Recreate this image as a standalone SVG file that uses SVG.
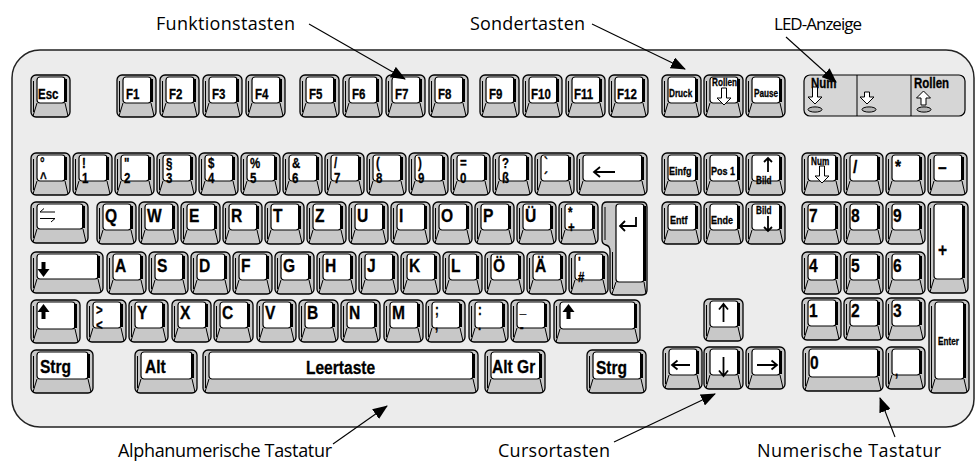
<svg xmlns="http://www.w3.org/2000/svg" xmlns:xlink="http://www.w3.org/1999/xlink" width="977" height="461" viewBox="0 0 977 461">
<style>
.ko{fill:#c8c8c8;stroke:#000;stroke-width:1.3}
.kf{fill:#fff;stroke:#000;stroke-width:1.2}
.ks{fill:none;stroke:#000;stroke-width:3}
.kl{fill:none;stroke:#000;stroke-width:1}
.l,.lc{font-family:"Liberation Sans Narrow","Liberation Sans",Arial,sans-serif;font-weight:bold;fill:#000;stroke:#000;stroke-width:0.3;transform-box:fill-box;transform:scaleX(0.82)}
.l{transform-origin:0% 50%}
.lc{transform-origin:50% 50%}
.s19{font-size:19px}
.s14{font-size:14px}
.s11{font-size:11px}
.s10{font-size:10px}
.cap{font-family:"Open Sans","Noto Sans",sans-serif;font-size:18px;fill:#000}
.ar{fill:none;stroke:#000;stroke-width:1.8}
.oa{fill:#fff;stroke:#000;stroke-width:1}
.led{fill:#b4b4b4;stroke:#000;stroke-width:1}
.ld{fill:none;stroke:#000;stroke-width:1.1}
</style>
<defs>
<g id="k">
<rect class="ko" width="39" height="42" rx="5"/>
<path class="kl" d="M2.5,6 V37"/>
<rect class="kf" x="6" y="2" width="28" height="26" rx="3"/>
<path class="ks" d="M34.5,4 V27"/>
<path class="kl" d="M6,28 L2,41 M34,28 L37,41"/>
</g>
<marker id="ah" markerWidth="15" markerHeight="12" refX="14" refY="6" orient="auto" markerUnits="userSpaceOnUse">
<path d="M0,0 L15,6 L0,12 Z" fill="#000"/>
</marker>
</defs>
<rect width="977" height="461" fill="#fff"/>
<g id="body">
<rect x="12" y="50" width="962" height="377" rx="28" fill="#ececec" stroke="#222" stroke-width="1.5"/>
</g>

<!-- Function row -->
<g id="key-esc"><use href="#k" x="31" y="75"/><text class="l s14" x="38" y="99">Esc</text></g>
<g id="key-f1"><use href="#k" x="117" y="75"/><text class="l s14" x="126" y="99">F1</text></g>
<g id="key-f2"><use href="#k" x="160" y="75"/><text class="l s14" x="169" y="99">F2</text></g>
<g id="key-f3"><use href="#k" x="203" y="75"/><text class="l s14" x="212" y="99">F3</text></g>
<g id="key-f4"><use href="#k" x="246" y="75"/><text class="l s14" x="255" y="99">F4</text></g>
<g id="key-f5"><use href="#k" x="300" y="75"/><text class="l s14" x="309" y="99">F5</text></g>
<g id="key-f6"><use href="#k" x="343" y="75"/><text class="l s14" x="352" y="99">F6</text></g>
<g id="key-f7"><use href="#k" x="386" y="75"/><text class="l s14" x="395" y="99">F7</text></g>
<g id="key-f8"><use href="#k" x="429" y="75"/><text class="l s14" x="438" y="99">F8</text></g>
<g id="key-f9"><use href="#k" x="480" y="75"/><text class="l s14" x="489" y="99">F9</text></g>
<g id="key-f10"><use href="#k" x="523" y="75"/><text class="l s14" x="531" y="99">F10</text></g>
<g id="key-f11"><use href="#k" x="566" y="75"/><text class="l s14" x="574" y="99">F11</text></g>
<g id="key-f12"><use href="#k" x="609" y="75"/><text class="l s14" x="617" y="99">F12</text></g>
<g id="key-druck"><use href="#k" x="662" y="75"/><text class="l s10" x="669" y="97">Druck</text></g>
<g id="key-rollen"><use href="#k" x="704" y="75"/><text class="l s10" x="712" y="86">Rollen</text><path class="oa" d="M721.5,88 H726.5 V98 H731 L724,105 L717,98 H721.5 Z"/></g>
<g id="key-pause"><use href="#k" x="746" y="75"/><text class="l s10" x="754" y="97">Pause</text></g>

<g id="led-panel">
<rect x="804" y="75" width="161" height="41" rx="6" fill="#d6d6d6" stroke="#000" stroke-width="1.2"/>
<path class="kl" d="M857,75 V116 M911,75 V116"/>
<text class="l s14" x="811" y="88">Num</text>
<path class="oa" d="M812.5,87 H817.5 V97 H822 L815,104 L808,97 H812.5 Z"/>
<ellipse class="led" cx="815" cy="109.5" rx="7" ry="2.6"/>
<path class="oa" d="M864.5,92 H869.5 V97 H874 L867,104 L860,97 H864.5 Z"/>
<ellipse class="led" cx="869" cy="109.5" rx="7" ry="2.6"/>
<text class="l s14" x="914" y="88">Rollen</text>
<path class="oa" d="M923.5,91 L930.5,98 H926 V105 H921 V98 H916.5 Z"/>
<ellipse class="led" cx="924" cy="109.5" rx="7" ry="2.6"/>
</g>

<!-- Number row -->
<g id="key-circ"><use href="#k" x="31" y="153"/><text class="l s14" x="40" y="168">°<tspan x="40" y="183">^</tspan></text></g>
<g id="key-1"><use href="#k" x="73" y="153"/><text class="l s14" x="82" y="168">!<tspan x="82" y="183">1</tspan></text></g>
<g id="key-2"><use href="#k" x="115" y="153"/><text class="l s14" x="124" y="168">"<tspan x="124" y="183">2</tspan></text></g>
<g id="key-3"><use href="#k" x="157" y="153"/><text class="l s14" x="166" y="168">§<tspan x="166" y="183">3</tspan></text></g>
<g id="key-4"><use href="#k" x="199" y="153"/><text class="l s14" x="208" y="168">$<tspan x="208" y="183">4</tspan></text></g>
<g id="key-5"><use href="#k" x="241" y="153"/><text class="l s14" x="250" y="168">%<tspan x="250" y="183">5</tspan></text></g>
<g id="key-6"><use href="#k" x="283" y="153"/><text class="l s14" x="292" y="168">&amp;<tspan x="292" y="183">6</tspan></text></g>
<g id="key-7"><use href="#k" x="325" y="153"/><text class="l s14" x="334" y="168">/<tspan x="334" y="183">7</tspan></text></g>
<g id="key-8"><use href="#k" x="367" y="153"/><text class="l s14" x="376" y="168">(<tspan x="376" y="183">8</tspan></text></g>
<g id="key-9"><use href="#k" x="409" y="153"/><text class="l s14" x="418" y="168">)<tspan x="418" y="183">9</tspan></text></g>
<g id="key-0"><use href="#k" x="451" y="153"/><text class="l s14" x="460" y="168">=<tspan x="460" y="183">0</tspan></text></g>
<g id="key-sz"><use href="#k" x="493" y="153"/><text class="l s14" x="502" y="168">?<tspan x="502" y="183">ß</tspan></text></g>
<g id="key-acc"><use href="#k" x="535" y="153"/><text class="l s14" x="544" y="168">`<tspan x="544" y="183">´</tspan></text></g>
<g id="key-backspace" transform="translate(577,153)">
<rect class="ko" width="70" height="42" rx="5"/><path class="kl" d="M2.5,6 V37"/>
<rect class="kf" x="6" y="2" width="59" height="26" rx="3"/><path class="ks" d="M65.5,4 V27"/>
<path class="kl" d="M6,28 L2,41 M65,28 L68,41"/>
<path class="ar" d="M38,19 H17 M23,14 L17,19 L23,24"/>
</g>
<g id="key-einfg"><use href="#k" x="662" y="153"/><text class="l s11" x="669" y="175">Einfg</text></g>
<g id="key-pos1"><use href="#k" x="704" y="153"/><text class="l s11" x="711" y="175">Pos 1</text></g>
<g id="key-bildauf"><use href="#k" x="746" y="153"/><path class="ar" d="M768,172 V158 M764,162 L768,158 L772,162"/><text class="l s10" x="756" y="184">Bild</text></g>
<g id="key-num"><use href="#k" x="802" y="153"/><text class="l s10" x="811" y="165">Num</text><path class="oa" d="M819.5,166 H824.5 V176 H829 L822,183 L815,176 H819.5 Z"/></g>
<g id="key-div"><use href="#k" x="844" y="153"/><text class="l s19" x="853" y="173">/</text></g>
<g id="key-mul"><use href="#k" x="886" y="153"/><text class="l s19" x="895" y="173">*</text></g>
<g id="key-minus"><use href="#k" x="928" y="153"/><text class="l s19" x="938" y="173">–</text></g>

<!-- QWERTZ row -->
<g id="key-tab" transform="translate(31,202)">
<rect class="ko" width="57" height="41" rx="5"/><path class="kl" d="M2.5,6 V36"/>
<rect class="kf" x="6" y="2" width="46" height="25" rx="3"/><path class="ks" d="M52.5,4 V26"/>
<path class="kl" d="M6,27 L2,40 M52,27 L55,40"/>
<path class="kl" d="M24,10 H9 L13,6.5 M9,16.5 H24 L20,20"/>
</g>
<g id="key-q"><use href="#k" x="97" y="202"/><text class="l s19" x="105" y="222">Q</text></g>
<g id="key-w"><use href="#k" x="139" y="202"/><text class="l s19" x="147" y="222">W</text></g>
<g id="key-e"><use href="#k" x="181" y="202"/><text class="l s19" x="189" y="222">E</text></g>
<g id="key-r"><use href="#k" x="223" y="202"/><text class="l s19" x="231" y="222">R</text></g>
<g id="key-t"><use href="#k" x="265" y="202"/><text class="l s19" x="273" y="222">T</text></g>
<g id="key-z"><use href="#k" x="307" y="202"/><text class="l s19" x="315" y="222">Z</text></g>
<g id="key-u"><use href="#k" x="349" y="202"/><text class="l s19" x="357" y="222">U</text></g>
<g id="key-i"><use href="#k" x="391" y="202"/><text class="l s19" x="399" y="222">I</text></g>
<g id="key-o"><use href="#k" x="433" y="202"/><text class="l s19" x="441" y="222">O</text></g>
<g id="key-p"><use href="#k" x="475" y="202"/><text class="l s19" x="483" y="222">P</text></g>
<g id="key-ue"><use href="#k" x="517" y="202"/><text class="l s19" x="525" y="222">Ü</text></g>
<g id="key-plus"><use href="#k" x="559" y="202"/><text class="l s14" x="568" y="217">*<tspan x="568" y="232">+</tspan></text></g>
<g id="key-enter">
<path class="ko" d="M607,202 H642 Q647,202 647,207 V290 Q647,295 642,295 H615 Q610,295 610,290 V251 Q610,246 606,245 Q602,244 602,240 V207 Q602,202 607,202 Z"/>
<path class="kl" d="M605,207 V240 M612.5,252 V289"/>
<rect class="kf" x="616" y="204" width="28" height="78" rx="3"/>
<path class="ks" d="M644.5,206 V281"/>
<path class="kl" d="M616,282 L612,294 M644,282 L646,294"/>
<path class="ar" d="M636,217 V226 H620 M625,221 L620,226 L625,231"/>
</g>
<g id="key-entf"><use href="#k" x="662" y="202"/><text class="l s11" x="670" y="224">Entf</text></g>
<g id="key-ende"><use href="#k" x="704" y="202"/><text class="l s11" x="711" y="224">Ende</text></g>
<g id="key-bildab"><use href="#k" x="746" y="202"/><text class="l s10" x="756" y="214">Bild</text><path class="ar" d="M768,216 V231 M764,227 L768,231 L772,227"/></g>
<g id="key-n7"><use href="#k" x="802" y="202"/><text class="l s19" x="809" y="222">7</text></g>
<g id="key-n8"><use href="#k" x="844" y="202"/><text class="l s19" x="851" y="222">8</text></g>
<g id="key-n9"><use href="#k" x="886" y="202"/><text class="l s19" x="893" y="222">9</text></g>
<g id="key-nplus" transform="translate(928,202)">
<rect class="ko" width="40" height="91" rx="5"/><path class="kl" d="M2.5,6 V86"/>
<rect class="kf" x="6" y="2" width="29" height="75" rx="3"/><path class="ks" d="M35.5,4 V76"/>
<path class="kl" d="M6,77 L2,90 M35,77 L38,90"/>
<text class="l s19" x="10" y="54">+</text>
</g>

<!-- ASDF row -->
<g id="key-caps" transform="translate(31,252)">
<rect class="ko" width="72" height="41" rx="5"/><path class="kl" d="M2.5,6 V36"/>
<rect class="kf" x="6" y="2" width="61" height="25" rx="3"/><path class="ks" d="M67.5,4 V26"/>
<path class="kl" d="M6,27 L2,40 M67,27 L70,40"/>
<path d="M10.5,10 H14.5 V17 H18.5 L12.5,25 L6.5,17 H10.5 Z" fill="#000"/>
</g>
<g id="key-a"><use href="#k" x="107" y="252"/><text class="l s19" x="115" y="272">A</text></g>
<g id="key-s"><use href="#k" x="149" y="252"/><text class="l s19" x="157" y="272">S</text></g>
<g id="key-d"><use href="#k" x="191" y="252"/><text class="l s19" x="199" y="272">D</text></g>
<g id="key-f"><use href="#k" x="233" y="252"/><text class="l s19" x="241" y="272">F</text></g>
<g id="key-g"><use href="#k" x="275" y="252"/><text class="l s19" x="283" y="272">G</text></g>
<g id="key-h"><use href="#k" x="317" y="252"/><text class="l s19" x="325" y="272">H</text></g>
<g id="key-j"><use href="#k" x="359" y="252"/><text class="l s19" x="367" y="272">J</text></g>
<g id="key-k"><use href="#k" x="401" y="252"/><text class="l s19" x="409" y="272">K</text></g>
<g id="key-l"><use href="#k" x="443" y="252"/><text class="l s19" x="451" y="272">L</text></g>
<g id="key-oe"><use href="#k" x="485" y="252"/><text class="l s19" x="493" y="272">Ö</text></g>
<g id="key-ae"><use href="#k" x="527" y="252"/><text class="l s19" x="535" y="272">Ä</text></g>
<g id="key-hash"><use href="#k" x="569" y="252"/><text class="l s14" x="578" y="267">'<tspan x="578" y="282">#</tspan></text></g>
<g id="key-n4"><use href="#k" x="802" y="252"/><text class="l s19" x="809" y="272">4</text></g>
<g id="key-n5"><use href="#k" x="844" y="252"/><text class="l s19" x="851" y="272">5</text></g>
<g id="key-n6"><use href="#k" x="886" y="252"/><text class="l s19" x="893" y="272">6</text></g>

<!-- Shift row -->
<g id="key-lshift" transform="translate(31,300)">
<rect class="ko" width="49" height="43" rx="5"/><path class="kl" d="M2.5,6 V38"/>
<rect class="kf" x="6" y="2" width="38" height="27" rx="3"/><path class="ks" d="M44.5,4 V28"/>
<path class="kl" d="M6,29 L2,42 M44,29 L47,42"/>
<path d="M12.5,4 L18.5,12 H14.5 V19 H10.5 V12 H6.5 Z" fill="#000"/>
</g>
<g id="key-lt"><use href="#k" x="87" y="300"/><text class="l s14" x="96" y="315">&gt;<tspan x="96" y="330">&lt;</tspan></text></g>
<g id="key-y"><use href="#k" x="129" y="300"/><text class="l s19" x="137" y="319">Y</text></g>
<g id="key-x"><use href="#k" x="172" y="300"/><text class="l s19" x="180" y="319">X</text></g>
<g id="key-c"><use href="#k" x="214" y="300"/><text class="l s19" x="222" y="319">C</text></g>
<g id="key-v"><use href="#k" x="257" y="300"/><text class="l s19" x="265" y="319">V</text></g>
<g id="key-b"><use href="#k" x="299" y="300"/><text class="l s19" x="307" y="319">B</text></g>
<g id="key-n"><use href="#k" x="341" y="300"/><text class="l s19" x="349" y="319">N</text></g>
<g id="key-m"><use href="#k" x="384" y="300"/><text class="l s19" x="392" y="319">M</text></g>
<g id="key-comma"><use href="#k" x="426" y="300"/><text class="l s14" x="435" y="315">;<tspan x="435" y="330">,</tspan></text></g>
<g id="key-dot"><use href="#k" x="469" y="300"/><text class="l s14" x="478" y="315">:<tspan x="478" y="330">.</tspan></text></g>
<g id="key-dash"><use href="#k" x="511" y="300"/><text class="l s14" x="520" y="313">_<tspan x="520" y="332">-</tspan></text></g>
<g id="key-rshift" transform="translate(554,300)">
<rect class="ko" width="86" height="43" rx="5"/><path class="kl" d="M2.5,6 V38"/>
<rect class="kf" x="6" y="2" width="75" height="27" rx="3"/><path class="ks" d="M81.5,4 V28"/>
<path class="kl" d="M6,29 L2,42 M81,29 L84,42"/>
<path d="M14.5,4 L20.5,12 H16.5 V19 H12.5 V12 H8.5 Z" fill="#000"/>
</g>
<g id="key-up"><use href="#k" x="704" y="299"/><path class="ar" d="M723.5,322 V304 M719,309.5 L723.5,304 L728,309.5"/></g>
<g id="key-n1"><use href="#k" x="802" y="298"/><text class="l s19" x="809" y="317">1</text></g>
<g id="key-n2"><use href="#k" x="844" y="298"/><text class="l s19" x="851" y="317">2</text></g>
<g id="key-n3"><use href="#k" x="886" y="298"/><text class="l s19" x="893" y="317">3</text></g>
<g id="key-nenter" transform="translate(929,300)">
<rect class="ko" width="40" height="93" rx="5"/><path class="kl" d="M2.5,6 V88"/>
<rect class="kf" x="6" y="2" width="29" height="77" rx="3"/><path class="ks" d="M35.5,4 V78"/>
<path class="kl" d="M6,79 L2,92 M35,79 L38,92"/>
<text class="l s10" x="9" y="45">Enter</text>
</g>

<!-- Bottom row -->
<g id="key-lstrg" transform="translate(31,350)">
<rect class="ko" width="62" height="43" rx="5"/><path class="kl" d="M2.5,6 V38"/>
<rect class="kf" x="6" y="2" width="51" height="27" rx="3"/><path class="ks" d="M57.5,4 V28"/>
<path class="kl" d="M6,29 L2,42 M57,29 L60,42"/>
<text class="l s19" x="9" y="23">Strg</text>
</g>
<g id="key-alt" transform="translate(135,350)">
<rect class="ko" width="62" height="43" rx="5"/><path class="kl" d="M2.5,6 V38"/>
<rect class="kf" x="6" y="2" width="51" height="27" rx="3"/><path class="ks" d="M57.5,4 V28"/>
<path class="kl" d="M6,29 L2,42 M57,29 L60,42"/>
<text class="l s19" x="10" y="23">Alt</text>
</g>
<g id="key-space" transform="translate(203,350)">
<rect class="ko" width="275" height="43" rx="5"/><path class="kl" d="M2.5,6 V38"/>
<rect class="kf" x="6" y="2" width="264" height="27" rx="3"/><path class="ks" d="M270.5,4 V28"/>
<path class="kl" d="M6,29 L2,42 M270,29 L273,42"/>
<text class="lc s19" x="137.5" y="24" text-anchor="middle">Leertaste</text>
</g>
<g id="key-altgr" transform="translate(485,350)">
<rect class="ko" width="60" height="43" rx="5"/><path class="kl" d="M2.5,6 V38"/>
<rect class="kf" x="6" y="2" width="49" height="27" rx="3"/><path class="ks" d="M55.5,4 V28"/>
<path class="kl" d="M6,29 L2,42 M55,29 L58,42"/>
<text class="l s19" x="7" y="23">Alt Gr</text>
</g>
<g id="key-rstrg" transform="translate(587,350)">
<rect class="ko" width="59" height="43" rx="5"/><path class="kl" d="M2.5,6 V38"/>
<rect class="kf" x="6" y="2" width="48" height="27" rx="3"/><path class="ks" d="M54.5,4 V28"/>
<path class="kl" d="M6,29 L2,42 M54,29 L57,42"/>
<text class="l s19" x="9" y="24">Strg</text>
</g>
<g id="key-left"><use href="#k" x="663" y="347"/><path class="ar" d="M690,365 H672 M677.5,360.5 L672,365 L677.5,369.5"/></g>
<g id="key-down"><use href="#k" x="704" y="347"/><path class="ar" d="M723.5,357 V376 M719,370.5 L723.5,376 L728,370.5"/></g>
<g id="key-right"><use href="#k" x="746" y="347"/><path class="ar" d="M757,365 H777 M771.5,360.5 L777,365 L771.5,369.5"/></g>
<g id="key-n0" transform="translate(803,347)">
<rect class="ko" width="80" height="44" rx="5"/><path class="kl" d="M2.5,6 V39"/>
<rect class="kf" x="6" y="2" width="69" height="28" rx="3"/><path class="ks" d="M75.5,4 V29"/>
<path class="kl" d="M6,30 L2,43 M75,30 L78,43"/>
<text class="l s19" x="7" y="22">0</text>
</g>
<g id="key-ncomma"><use href="#k" x="886" y="347"/><text class="l s14" x="895" y="376">,</text></g>

<!-- Callout labels -->
<g id="label-funktion"><text class="cap" x="156" y="30" textLength="139">Funktionstasten</text></g>
<g id="label-sonder"><text class="cap" x="470" y="30" textLength="115">Sondertasten</text></g>
<g id="label-led"><text class="cap" x="774" y="30" style="font-size:17px" textLength="88">LED-Anzeige</text></g>
<g id="label-alpha"><text class="cap" x="118" y="457" textLength="214">Alphanumerische Tastatur</text></g>
<g id="label-cursor"><text class="cap" x="498" y="457" textLength="112">Cursortasten</text></g>
<g id="label-numerisch"><text class="cap" x="757" y="457" textLength="184">Numerische Tastatur</text></g>

<g id="connectors" class="ld" marker-end="url(#ah)">
<path d="M309,24 L405,79"/>
<path d="M592,24 L685,69"/>
<path d="M786,37 L836,82"/>
<path d="M333,444 L387,406"/>
<path d="M614,442 L715,394"/>
<path d="M895,437 L880,398"/>
</g>
</svg>
